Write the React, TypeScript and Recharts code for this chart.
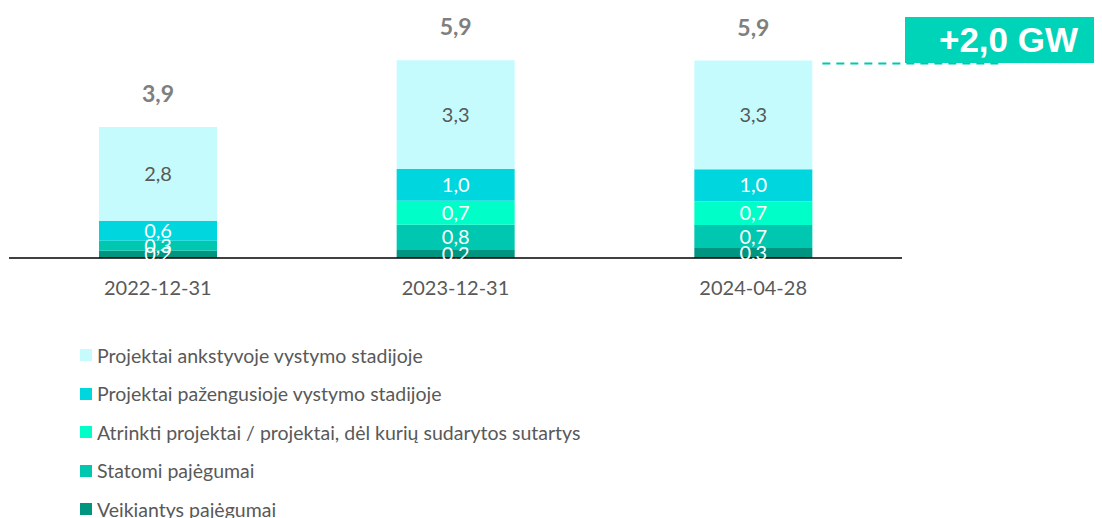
import { Bar, BarChart, LabelList, XAxis, YAxis } from "recharts";

const categories = ["2022-12-31", "2023-12-31", "2024-04-28"];
const veikiantys = [0.22, 0.24, 0.3];
const statomi = [0.3, 0.76, 0.69];
const atrinkti = [0, 0.72, 0.72];
const pazengusioje = [0.6, 0.96, 0.96];
const ankstyvoje = [2.82, 3.27, 3.27];
const totals = [3.9, 5.9, 5.9];
const growthLabel = "+2,0 GW";

const seriesNames = {
  ankstyvoje: "Projektai ankstyvoje vystymo stadijoje",
  pazengusioje: "Projektai pažengusioje vystymo stadijoje",
  atrinkti: "Atrinkti projektai / projektai, dėl kurių sudarytos sutartys",
  statomi: "Statomi pajėgumai",
  veikiantys: "Veikiantys pajėgumai",
};

const colors = {
  ankstyvoje: "#c6fbfe",
  pazengusioje: "#00d6de",
  atrinkti: "#00ffc8",
  statomi: "#00c8b0",
  veikiantys: "#009580",
};

const data = categories.map((date, i) => ({
  date,
  veikiantys: veikiantys[i],
  statomi: statomi[i],
  atrinkti: atrinkti[i],
  pazengusioje: pazengusioje[i],
  ankstyvoje: ankstyvoje[i],
  total: totals[i],
}));

const stackOrder = ["veikiantys", "statomi", "atrinkti", "pazengusioje", "ankstyvoje"] as const;
const legendOrder = [...stackOrder].reverse();

const font = "Lato, 'Open Sans', sans-serif";
const fmt = (v: any) => (v ? Number(v).toFixed(1).replace(".", ",") : "");

function TotalLabel(props: any) {
  const { x, y, width, index } = props;
  const cx = x + width / 2;
  return (
    <g>
      <text
        x={cx}
        y={y - 34}
        textAnchor="middle"
        dominantBaseline="central"
        fill="#7f7f7f"
        fontFamily={font}
        fontWeight={700}
        fontSize={23}
      >
        {fmt(totals[index])}
      </text>
      {index === categories.length - 1 && (
        <line
          x1={x + width + 10}
          x2={x + width + 190}
          y1={y + 3}
          y2={y + 3}
          stroke="#00c8b0"
          strokeWidth={2}
          strokeDasharray="8 6"
        />
      )}
    </g>
  );
}

export default function App() {
  return (
    <div style={{ position: "relative", width: 1094, height: 510, fontFamily: font }}>
      <BarChart
        width={1094}
        height={290}
        data={data}
        margin={{ top: 19, right: 200, left: 1, bottom: 0 }}
      >
        <XAxis
          dataKey="date"
          axisLine={{ stroke: "#000", strokeWidth: 1.5 }}
          tickLine={false}
          tickMargin={17}
          height={40}
          tick={{ fill: "#595959", fontSize: 20, fontFamily: font }}
        />
        <YAxis hide domain={[0, 6.95]} />
        {stackOrder.map((key) => (
          <Bar
            key={key}
            dataKey={key}
            stackId="a"
            fill={colors[key]}
            barSize={118}
            isAnimationActive={false}
          >
            <LabelList
              dataKey={key}
              position="center"
              formatter={fmt}
              fill={key === "ankstyvoje" ? "#595959" : "#ffffff"}
              fontSize={20}
              fontFamily={font}
            />
            {key === "ankstyvoje" && <LabelList dataKey="total" content={TotalLabel} />}
          </Bar>
        ))}
      </BarChart>
      <div
        style={{
          position: "absolute",
          left: 897,
          top: 9,
          width: 193,
          height: 46,
          background: "#00d4b8",
          color: "#fff",
          fontFamily: "'Liberation Sans', Arial, sans-serif",
          fontWeight: 700,
          fontSize: 35,
          lineHeight: "46px",
          textAlign: "center",
          paddingLeft: 14,
          boxSizing: "border-box",
        }}
      >
        {growthLabel}
      </div>
      <div style={{ position: "absolute", left: 72, top: 328 }}>
        {legendOrder.map((key) => (
          <div
            key={key}
            style={{ display: "flex", alignItems: "center", height: 38.5, color: "#595959", fontSize: 19.5 }}
          >
            <span style={{ width: 12, height: 12, background: colors[key], marginRight: 5 }} />
            {seriesNames[key]}
          </div>
        ))}
      </div>
    </div>
  );
}
